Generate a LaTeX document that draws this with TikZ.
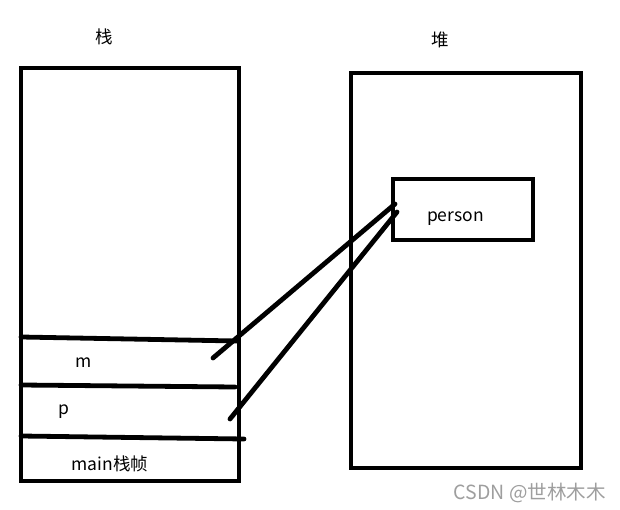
\documentclass[tikz,border=0pt]{standalone}
\usepackage{fontspec}
\newfontfamily\cjk{Noto Sans CJK SC}
\begin{document}
\begin{tikzpicture}[x=1pt,y=-1pt,
  box/.style={draw=black,line width=4.8pt,inner sep=0pt,outer sep=0pt},
  stroke/.style={line width=4.8pt,line cap=round},
  lbl/.style={font=\cjk\fontsize{17.5}{20}\selectfont,inner sep=0pt,anchor=base},
  wm/.style={font=\cjk\fontsize{19.5}{22}\selectfont,text=black!38,inner sep=0pt,anchor=base east}]
\useasboundingbox (0,0) rectangle (620,510);
% boxes
\node[box,minimum width=218pt,minimum height=413pt] (stack) at (130,274.5) {};
\node[box,minimum width=230pt,minimum height=395pt] (heap) at (466,270.5) {};
\node[box,minimum width=140pt,minimum height=61pt] (person) at (463,209.5) {};
% titles
\node[lbl,anchor=center] (tstack) at (104,37) {栈};
\node[lbl,anchor=center] (theap) at (440,40) {堆};
% dividers
\coordinate (d1a) at (21,337); \coordinate (d1b) at (237,341);
\coordinate (d2a) at (21,385); \coordinate (d2b) at (235,387);
\coordinate (d3a) at (21,436); \coordinate (d3b) at (244,439);
\draw[stroke] (d1a) -- (d1b);
\draw[stroke] (d2a) -- (d2b);
\draw[stroke] (d3a) -- (d3b);
% labels
\node[lbl] (lm) at (83.5,367) {m};
\node[lbl] (lp) at (64,414) {p};
\node[lbl] (lmain) at (110,470) {main栈帧};
\node[lbl] (lperson) at (455.5,222) {person};
% references
\coordinate (m0) at (213,358); \coordinate (m1) at (395,204);
\coordinate (p0) at (230,419); \coordinate (p1) at (397,212);
\draw[stroke] (m0) -- (m1);
\draw[stroke] (p0) -- (p1);
% watermark
\node[wm] (wmark) at (606,499) {CSDN @世林木木};
\end{tikzpicture}
\end{document}
